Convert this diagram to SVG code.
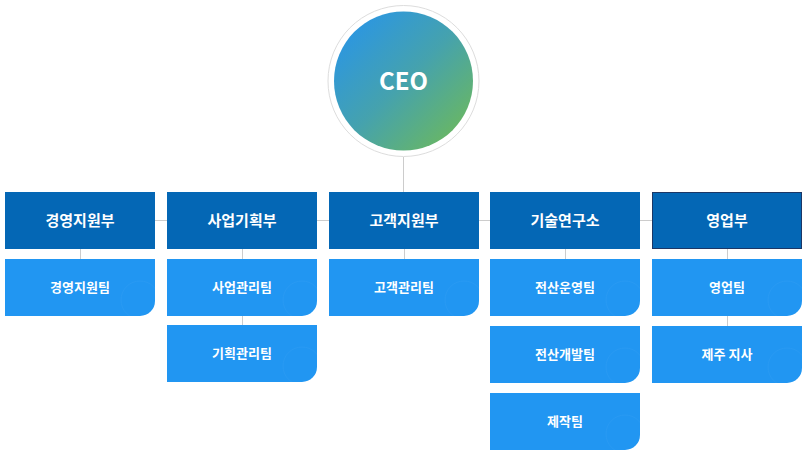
<svg xmlns="http://www.w3.org/2000/svg" width="806" height="457" viewBox="0 0 806 457">
<defs>
<linearGradient id="ceoGrad" x1="0" y1="0" x2="1" y2="1">
<stop offset="0.1" stop-color="#2b96e3"/>
<stop offset="0.5" stop-color="#45a2ae"/>
<stop offset="0.95" stop-color="#6fba58"/>
</linearGradient>
</defs>
<style>
.dept{fill:#0467b5}
.team{fill:#2196f2}
.deco{fill:none;stroke:#ffffff;stroke-opacity:0.035;stroke-width:1}
.line{stroke:#cccccc;stroke-width:1;fill:none}
.dt{font-family:"Noto Sans CJK KR","Noto Sans",sans-serif;font-size:15px;font-weight:bold;fill:#ffffff;text-anchor:middle}
.tt{font-family:"Noto Sans CJK KR","Noto Sans",sans-serif;font-size:13px;font-weight:bold;fill:#ffffff;text-anchor:middle}
</style>
<rect width="806" height="457" fill="#ffffff"/>
<g id="connectors">
<line class="line" x1="403.5" y1="157" x2="403.5" y2="192"/>
<line class="line" x1="155" y1="220.5" x2="652" y2="220.5"/>
<line class="line" x1="80.5" y1="249" x2="80.5" y2="259"/>
<line class="line" x1="242.5" y1="249" x2="242.5" y2="325"/>
<line class="line" x1="404.5" y1="249" x2="404.5" y2="259"/>
<line class="line" x1="565.5" y1="249" x2="565.5" y2="259"/>
<line class="line" x1="727.5" y1="249" x2="727.5" y2="326"/>
</g>
<g id="ceo">
<circle cx="403.5" cy="81" r="75.5" fill="#ffffff" stroke="#dddddd" stroke-width="1"/>
<circle cx="403.5" cy="81" r="69.5" fill="url(#ceoGrad)"/>
<text x="403.5" y="90" font-family="Noto Sans CJK KR,Noto Sans,sans-serif" font-size="24" font-weight="bold" fill="#ffffff" text-anchor="middle">CEO</text>
</g>
<g id="dept1"><rect class="dept" x="5" y="192" width="150" height="57"/><text class="dt" x="80" y="226">경영지원부</text></g>
<g id="dept2"><rect class="dept" x="167" y="192" width="150" height="57"/><text class="dt" x="242" y="226">사업기획부</text></g>
<g id="dept3"><rect class="dept" x="329" y="192" width="150" height="57"/><text class="dt" x="404" y="226">고객지원부</text></g>
<g id="dept4"><rect class="dept" x="490" y="192" width="150" height="57"/><text class="dt" x="565" y="226">기술연구소</text></g>
<g id="dept5"><rect class="dept" x="652.5" y="192.5" width="149" height="56" stroke="#1c3766" stroke-width="1"/><text class="dt" x="727" y="226">영업부</text></g>
<g id="team1"><path class="team" d="M5 259H155V301A15 15 0 0 1 140 316H5Z"/><circle class="deco" cx="140" cy="300" r="19"/><text class="tt" x="80" y="292">경영지원팀</text></g>
<g id="team2"><path class="team" d="M167 259H317V301A15 15 0 0 1 302 316H167Z"/><circle class="deco" cx="302" cy="300" r="19"/><text class="tt" x="242" y="292">사업관리팀</text></g>
<g id="team3"><path class="team" d="M167 325H317V367A15 15 0 0 1 302 382H167Z"/><circle class="deco" cx="302" cy="366" r="19"/><text class="tt" x="242" y="358">기획관리팀</text></g>
<g id="team4"><path class="team" d="M329 259H479V301A15 15 0 0 1 464 316H329Z"/><circle class="deco" cx="464" cy="300" r="19"/><text class="tt" x="404" y="292">고객관리팀</text></g>
<g id="team5"><path class="team" d="M490 259H640V301A15 15 0 0 1 625 316H490Z"/><circle class="deco" cx="625" cy="300" r="19"/><text class="tt" x="565" y="292">전산운영팀</text></g>
<g id="team6"><path class="team" d="M490 326H640V368A15 15 0 0 1 625 383H490Z"/><circle class="deco" cx="625" cy="367" r="19"/><text class="tt" x="565" y="359">전산개발팀</text></g>
<g id="team7"><path class="team" d="M490 393H640V435A15 15 0 0 1 625 450H490Z"/><circle class="deco" cx="625" cy="434" r="19"/><text class="tt" x="565" y="426">제작팀</text></g>
<g id="team8"><path class="team" d="M652 259H802V301A15 15 0 0 1 787 316H652Z"/><circle class="deco" cx="787" cy="300" r="19"/><text class="tt" x="727" y="292">영업팀</text></g>
<g id="team9"><path class="team" d="M652 326H802V368A15 15 0 0 1 787 383H652Z"/><circle class="deco" cx="787" cy="367" r="19"/><text class="tt" x="727" y="359">제주 지사</text></g>
</svg>
